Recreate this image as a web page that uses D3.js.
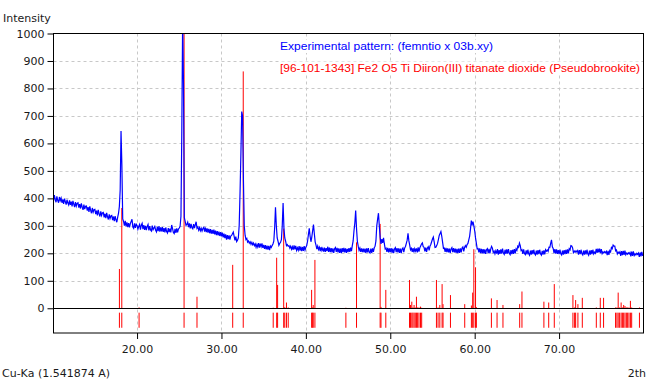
<!DOCTYPE html>
<html><head><meta charset="utf-8">
<script src="https://cdn.jsdelivr.net/npm/d3@7"></script>
<style>
body{margin:0;background:#fff}
svg{display:block}
text{font-family:"DejaVu Sans",Verdana,sans-serif;font-size:11px;fill:#1a1a1a}
</style>
</head><body>
<svg id="chart" width="648" height="380"></svg>
<script>
// Experimental step scan: first angle and step (2theta, degrees)
const scanStart = 10.0, scanStep = 0.1;
// Intensities, one row per degree (10.0 ... 79.9)
const expCounts = [
404,391,412,396,386,407,393,384,405,392,
401,384,396,380,399,388,377,395,383,376,
393,376,388,371,391,379,368,386,372,382,
384,366,379,363,382,368,358,377,361,371,
372,355,368,351,371,356,346,365,350,359,
360,343,355,338,358,344,334,353,338,347,
349,331,344,328,347,333,323,342,327,336,
338,321,334,317,335,322,313,331,345,370,
430,645,522,325,316,301,318,298,313,295,
310,294,308,316,324,296,291,309,293,306,
301,288,298,305,286,302,309,288,303,285,
300,284,298,305,283,299,285,281,301,286,
292,298,284,278,296,281,299,279,294,280,
295,278,292,276,294,279,274,292,277,290,
276,303,291,276,272,289,274,291,276,288,
292,298,335,640,1050,820,330,316,302,305,
313,295,309,291,307,293,289,306,292,304,
315,291,296,284,293,282,291,281,290,294,
279,294,277,291,275,289,273,288,272,285,
271,286,269,283,266,281,265,279,263,277,
262,275,258,272,255,269,250,266,252,265,
250,263,265,271,277,262,247,261,243,248,
256,302,420,560,716,700,470,300,266,250,
254,241,245,237,242,233,240,231,237,228,
234,222,232,223,237,221,235,224,236,220,
231,216,230,214,228,213,227,212,226,221,
228,234,244,292,368,300,256,244,229,236,
240,250,300,383,292,256,244,228,232,226,
228,219,226,215,224,213,229,214,227,211,
220,211,226,210,224,208,223,209,226,212,
222,228,244,268,291,262,242,259,282,305,
272,242,230,215,226,214,222,208,223,210,
218,206,221,205,219,208,224,205,221,204,
219,203,218,202,217,221,205,220,203,218,
202,217,201,219,204,220,203,218,202,216,
204,219,205,221,208,228,245,282,310,356,
290,244,226,211,219,205,218,204,217,203,
217,202,218,203,219,204,201,217,202,218,
205,220,226,245,300,325,346,300,258,234,
252,238,256,234,216,219,205,220,203,218,
204,219,202,217,201,216,221,204,219,203,
218,202,217,201,216,220,204,219,225,236,
248,273,246,230,213,218,205,219,203,217,
208,218,203,222,206,220,227,234,238,224,
222,207,221,205,219,224,211,226,232,242,
252,259,242,221,222,228,236,250,265,272,
279,262,240,218,219,205,220,204,218,203,
217,202,216,221,204,219,203,217,202,216,
201,217,202,218,203,219,223,207,221,228,
222,232,236,249,262,288,319,305,315,300,
282,256,236,216,217,203,218,201,216,200,
215,199,214,198,213,217,201,216,200,215,
225,219,203,208,198,209,199,215,195,212,
198,214,199,217,201,196,213,198,214,199,
215,200,195,212,197,213,198,215,200,216,
211,226,222,237,228,210,213,198,214,199,
195,211,196,213,198,193,210,195,212,197,
213,198,194,210,195,212,197,213,198,193,
209,195,211,196,213,208,212,207,222,221,
236,249,224,218,201,215,199,214,198,212,
197,213,198,194,210,195,212,197,213,198,
214,200,217,213,228,227,220,203,208,204,
209,205,210,195,212,197,213,198,194,210,
195,211,196,213,198,193,210,195,212,197,
213,198,204,200,216,202,217,203,217,201,
215,199,205,201,206,202,207,193,209,194,
210,205,221,217,230,226,226,209,212,198,
204,200,205,191,208,193,209,194,210,195,
201,197,202,198,203,189,206,191,207,192,
198,194,200,196,201,187,203,189,205,191
];

// Reference pattern 96-101-1343 (Pseudobrookite): line positions and relative intensities
const refAngles = [17.91,18.19,20.24,25.57,27.10,31.33,32.58,36.13,36.54,36.65,
  37.37,37.50,37.70,37.91,40.68,40.80,40.87,41.07,44.74,46.00,
  48.80,48.90,49.47,52.28,52.40,52.55,52.68,52.82,52.96,53.10,
  53.24,53.40,53.58,53.72,55.47,55.66,55.87,56.14,56.25,57.13,
  58.82,59.61,59.76,59.90,60.10,60.20,61.98,62.65,63.35,65.33,
  65.60,68.20,68.77,69.43,71.64,71.84,71.96,72.23,72.75,74.41,
  74.88,75.27,76.69,76.85,77.00,77.17,77.35,77.50,77.65,77.81,
  77.97,78.12,78.28,78.45,78.60,79.52];
const refIntens = [143,365,3,1000,42,158,862,2,184,85,
  290,4,21,3,67,3,12,176,2,240,
  307,5,67,103,12,24,3,12,3,42,
  3,3,6,2,103,3,12,88,15,48,
  15,10,57,215,149,4,36,30,12,15,
  61,24,21,88,48,3,30,15,38,3,
  38,38,3,3,57,3,21,3,12,8,
  3,3,3,27,3,3];

const xTicks = [20,30,40,50,60,70];
const yTicks = [0,100,200,300,400,500,600,700,800,900,1000];
const yGrid = [100,200,300,400,500,600,700,800,900];
const legendLabels = ["Experimental pattern: (femntio x 03b.xy)",
  "[96-101-1343] Fe2 O5 Ti Diiron(III) titanate dioxide (Pseudobrookite)"];
const legendColors = ["#0000ff","#ff0000"];

const L = 53.5, R = 643.5, T = 33.5, B = 333;
const svg = d3.select("#chart");
const x = d3.scaleLinear().domain([10.1, 80]).range([L, R]);
const y = d3.scaleLinear().domain([-90, 1000]).range([B, T]);

svg.append("defs").append("clipPath").attr("id","plotclip")
  .append("rect").attr("x",L).attr("y",T).attr("width",R-L).attr("height",B-T);

// grid
const grid = svg.append("g").attr("stroke","#c8c8c8").attr("stroke-dasharray","3,3").attr("stroke-width",1);
grid.selectAll("line.h").data(yGrid).join("line").attr("class","h")
  .attr("x1",L).attr("x2",R).attr("y1",d=>Math.round(y(d))+0.5).attr("y2",d=>Math.round(y(d))+0.5);
grid.selectAll("line.v").data(xTicks).join("line").attr("class","v")
  .attr("x1",d=>Math.round(x(d))+0.5).attr("x2",d=>Math.round(x(d))+0.5).attr("y1",T).attr("y2",B);

const plot = svg.append("g").attr("clip-path","url(#plotclip)");

// reference sticks
plot.append("g").selectAll("line").data(refAngles).join("line")
  .attr("x1",d=>x(d)).attr("x2",d=>x(d))
  .attr("y1",y(0)).attr("y2",(d,i)=>y(refIntens[i]))
  .attr("stroke","#ff0000").attr("stroke-width",1);
// reference position markers below zero
plot.append("g").selectAll("line").data(refAngles).join("line")
  .attr("x1",d=>x(d)).attr("x2",d=>x(d))
  .attr("y1",y(-16)).attr("y2",y(-71))
  .attr("stroke","#ff0000").attr("stroke-width",1);

// experimental pattern
const line = d3.line().x((d,i)=>x(scanStart + i*scanStep)).y(d=>y(d));
plot.append("path").datum(expCounts).attr("d",line)
  .attr("fill","none").attr("stroke","#0000ff").attr("stroke-width",1.2);

// zero line
svg.append("line").attr("x1",L).attr("x2",R).attr("y1",Math.round(y(0))+0.5).attr("y2",Math.round(y(0))+0.5)
  .attr("stroke","#000");

// frame
svg.append("rect").attr("x",L).attr("y",T).attr("width",R-L).attr("height",B-T)
  .attr("fill","none").attr("stroke","#000").attr("stroke-width",1);

// axes
const yAxis = svg.append("g").attr("transform",`translate(${L},0)`)
  .call(d3.axisLeft(y).tickValues(yTicks).tickSize(6).tickPadding(3).tickFormat(d3.format("d")));
yAxis.select(".domain").remove();
yAxis.selectAll("text").style("font-size","11px").style("font-family","DejaVu Sans");
const xAxis = svg.append("g").attr("transform",`translate(0,${B})`)
  .call(d3.axisBottom(x).tickValues(xTicks).tickSize(6).tickPadding(6).tickFormat(d3.format(".2f")));
xAxis.select(".domain").remove();
xAxis.selectAll("text").style("font-size","11px").style("font-family","DejaVu Sans");

// labels
svg.append("text").attr("x",3).attr("y",22).text("Intensity");
svg.append("text").attr("x",2).attr("y",377).text("Cu-Ka (1.541874 A)");
svg.append("text").attr("x",646).attr("y",377).attr("text-anchor","end").text("2th");

// legend
const legendWidths = [213, 360];
const lg = svg.append("g");
legendLabels.forEach((t,i)=>{
  const by = 50 + i*21.5;
  lg.append("rect").attr("x",279).attr("y",by-10).attr("width",legendWidths[i]+2).attr("height",13).attr("fill","#fff");
  lg.append("text").attr("x",280).attr("y",by).attr("textLength",legendWidths[i])
    .attr("lengthAdjust","spacingAndGlyphs")
    .style("font-family","'Liberation Sans',Arial,sans-serif").style("font-size","10.5px")
    .style("fill",legendColors[i]).text(t);
});
</script>
</body></html>
